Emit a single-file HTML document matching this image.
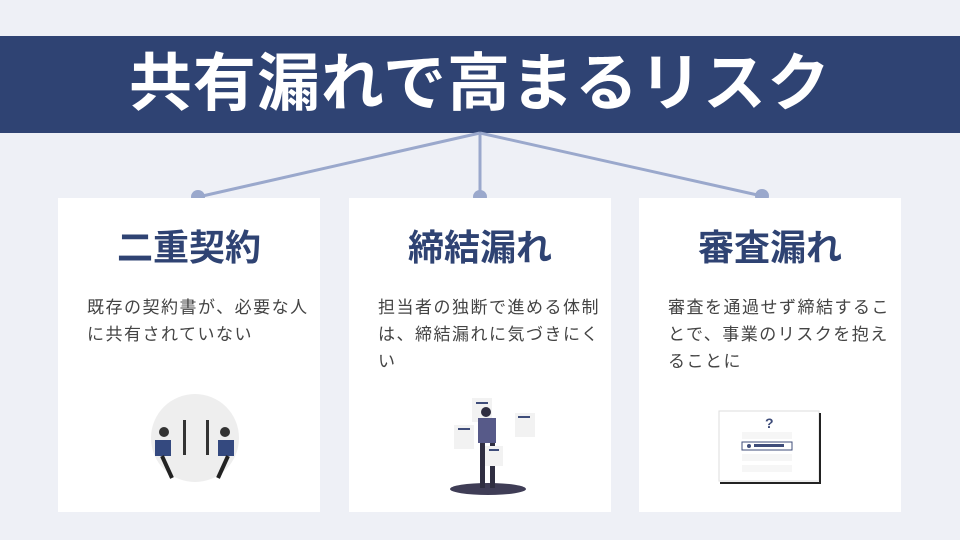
<!DOCTYPE html>
<html><head><meta charset="utf-8"><style>
body{margin:0;width:960px;height:540px;background:#eef0f6;position:relative;overflow:hidden;font-family:"Liberation Sans","Noto Sans CJK JP",sans-serif}
.ban{position:absolute;left:0;top:36px;width:960px;height:97px;background:#2f4373;color:#fff;font-weight:bold;font-size:63px;text-align:center;line-height:97px;letter-spacing:1px}
.card{position:absolute;top:198px;width:262px;height:314px;background:#fff}
.card h2{margin:0;position:absolute;top:21px;width:100%;text-align:center;font-size:36px;color:#2f4373;font-weight:bold}
.card p{margin:0;position:absolute;left:29px;top:96px;width:226px;font-size:17px;letter-spacing:1.5px;line-height:27px;color:#444}
svg{position:absolute;left:0;top:0}
</style></head><body>
<div class="ban">共有漏れで高まるリスク</div>
<svg width="960" height="540">
<g stroke="#9aa8cc" stroke-width="3"><line x1="480" y1="133" x2="198" y2="197"/><line x1="480" y1="133" x2="480" y2="197"/><line x1="480" y1="133" x2="762" y2="196"/></g>
<g fill="#9aa8cc"><circle cx="198" cy="197" r="7"/><circle cx="480" cy="197" r="7"/><circle cx="762" cy="196" r="7"/></g>
</svg>
<div class="card" style="left:58px"><h2>二重契約</h2><p>既存の契約書が、必要な人に共有されていない</p></div>
<div class="card" style="left:349px"><h2>締結漏れ</h2><p>担当者の独断で進める体制は、締結漏れに気づきにくい</p></div>
<div class="card" style="left:639px"><h2>審査漏れ</h2><p>審査を通過せず締結することで、事業のリスクを抱えることに</p></div>
<svg width="960" height="540">
<circle cx="195" cy="438" r="44" fill="#eeeeee"/>
<rect x="183" y="420" width="3" height="35" fill="#333"/><rect x="206" y="420" width="3" height="35" fill="#333"/>
<circle cx="164" cy="432" r="5" fill="#333"/><path d="M155 440h16v16h-16z" fill="#34497f"/><path d="M162 456l10 22" stroke="#222" stroke-width="4"/>
<circle cx="225" cy="432" r="5" fill="#333"/><path d="M218 440h16v16h-16z" fill="#34497f"/><path d="M228 456l-10 22" stroke="#222" stroke-width="4"/>
<ellipse cx="488" cy="489" rx="38" ry="6" fill="#3f3d56"/>
<rect x="454" y="425" width="20" height="24" fill="#f2f2f2"/><rect x="458" y="428" width="12" height="2" fill="#3f4d7a"/>
<rect x="515" y="413" width="20" height="24" fill="#f2f2f2"/><rect x="518" y="416" width="12" height="2" fill="#3f4d7a"/>
<rect x="472" y="398" width="20" height="24" fill="#f2f2f2"/><rect x="476" y="402" width="12" height="2" fill="#3f4d7a"/>
<circle cx="486" cy="412" r="5" fill="#2f2e41"/><rect x="478" y="418" width="18" height="25" fill="#575a89"/>
<rect x="480" y="443" width="5" height="45" fill="#2f2e41"/><rect x="490" y="443" width="5" height="45" fill="#2f2e41"/>
<rect x="485" y="446" width="18" height="20" fill="#f2f2f2"/><rect x="489" y="449" width="10" height="2" fill="#3f4d7a"/>
<rect x="719" y="411" width="100" height="70" fill="#fff" stroke="#ddd"/><path d="M820 413v70h-100" stroke="#222" stroke-width="2" fill="none"/>
<text x="765" y="428" font-size="14" font-weight="bold" fill="#3f4d7a" font-family="Liberation Sans">?</text>
<rect x="742" y="442" width="50" height="8" fill="#fff" stroke="#3f4d7a"/><circle cx="749" cy="446" r="2" fill="#3f4d7a"/><rect x="754" y="444" width="30" height="3" fill="#3f4d7a"/>
<rect x="742" y="432" width="50" height="7" fill="#f6f6f6"/><rect x="742" y="454" width="50" height="7" fill="#f6f6f6"/><rect x="742" y="465" width="50" height="7" fill="#f6f6f6"/>
</svg>
</body></html>
